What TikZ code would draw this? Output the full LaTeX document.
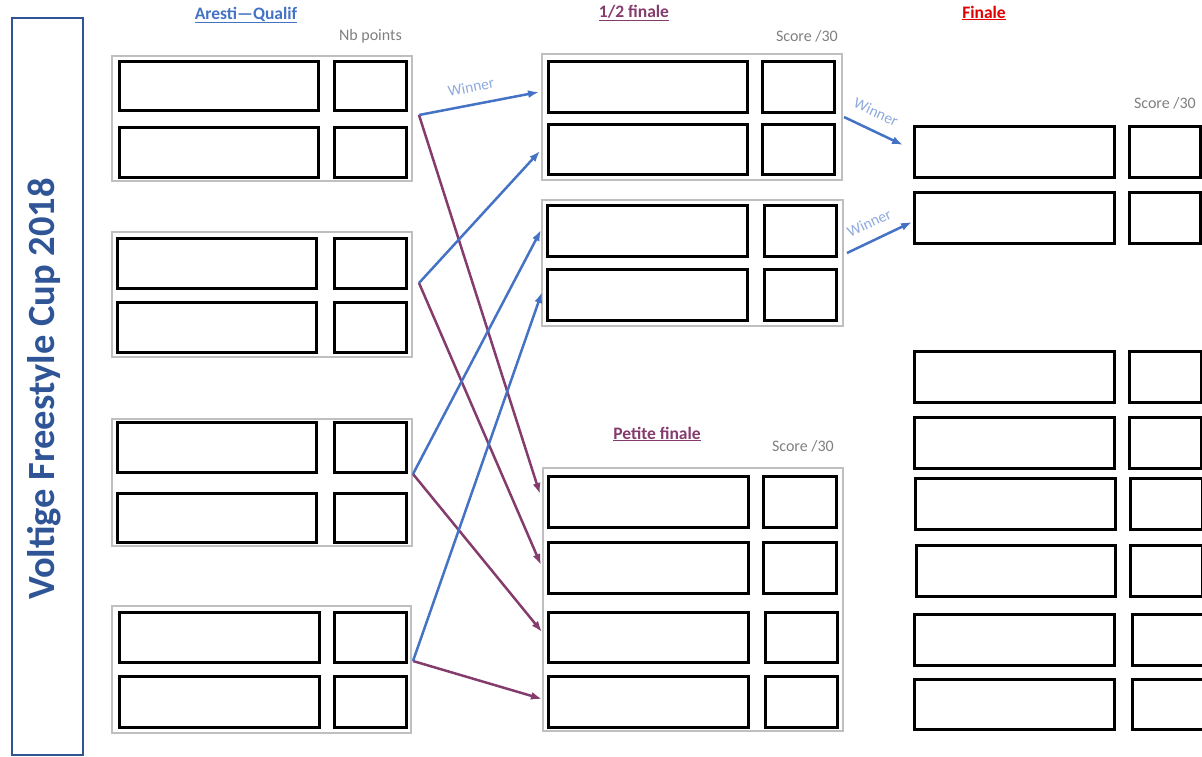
\documentclass[tikz,border=0pt]{standalone}
\usepackage{fontspec}
\setmainfont{Carlito}
\usetikzlibrary{arrows.meta,fit}
\definecolor{titleblue}{HTML}{2F5597}
\definecolor{headblue}{HTML}{4472C4}
\definecolor{arrblue}{HTML}{4472C4}
\definecolor{plum}{HTML}{843C6C}
\definecolor{winblue}{HTML}{8FAADC}
\definecolor{finred}{HTML}{E00000}
\definecolor{lblgray}{HTML}{7F7F7F}
\definecolor{grpgray}{HTML}{BFBFBF}
\newcommand\mybox[6][nbox]{\node[#1, fit={(#3,#4) (#5,#6)}] (#2) {};}
\begin{document}
\begin{tikzpicture}[x=1pt,y=-1pt,
  grp/.style={draw=grpgray, line width=1.4pt, inner sep=0pt},
  nbox/.style={draw=black, line width=3pt, inner sep=0pt},
  head/.style={font=\fontsize{17.5}{19}\selectfont\bfseries, inner sep=0pt},
  lbl/.style={font=\fontsize{16}{18}\selectfont, text=lblgray, inner sep=0pt},
  win/.style={font=\fontsize{15.5}{17}\selectfont, text=winblue, inner sep=0pt},
  barr/.style={draw=arrblue, line width=2.5pt, -{Latex[length=11pt,width=8pt]}},
  parr/.style={draw=plum, line width=2.5pt, -{Latex[length=11pt,width=8pt]}},
]
\useasboundingbox (0,0) rectangle (1202,756);
% title
\node[draw=titleblue, line width=2pt, fit={(12,18) (83,755)}, inner sep=0pt] (title) {};
\node[rotate=90, text=titleblue, font=\fontsize{38.5}{40}\selectfont\bfseries] (titletext) at (44,389) {Voltige Freestyle Cup 2018};
% headings
\node[head, text=headblue] (hq) at (246,15) {\underline{Aresti—Qualif}};
\node[lbl, anchor=east] (nbp) at (402,36) {Nb points};
\node[head, text=plum] (hs) at (634,13) {\underline{1/2 finale}};
\node[lbl, anchor=east] (sc1) at (838,36) {Score /30};
\node[head, text=finred] (hf) at (984,13) {\underline{Finale}};
\node[lbl, anchor=east] (sc2) at (1196,103) {Score /30};
\node[head, text=plum] (hp) at (657,434) {\underline{Petite finale}};
\node[lbl, anchor=east] (sc3) at (834,446) {Score /30};
% qualif groups
\mybox[grp]{q1}{112}{56}{412}{181}
\mybox[grp]{q2}{112}{232}{412}{357}
\mybox[grp]{q3}{112}{419}{412}{546}
\mybox[grp]{q4}{112}{606}{411}{733}
\mybox{q1an}{119}{61}{318}{110}\mybox{q1as}{334}{61}{406}{110}
\mybox{q1bn}{119}{127}{318}{177}\mybox{q1bs}{334}{127}{406}{177}
\mybox{q2an}{117}{238}{316}{288}\mybox{q2as}{334}{238}{406}{288}
\mybox{q2bn}{117}{302}{316}{352}\mybox{q2bs}{334}{302}{406}{352}
\mybox{q3an}{117}{422}{316}{472}\mybox{q3as}{334}{422}{406}{472}
\mybox{q3bn}{117}{493}{316}{542}\mybox{q3bs}{334}{493}{406}{542}
\mybox{q4an}{119}{612}{319}{662}\mybox{q4as}{334}{612}{406}{662}
\mybox{q4bn}{119}{676}{319}{727}\mybox{q4bs}{334}{676}{406}{727}
% semi-finals
\mybox[grp]{s1}{542}{54}{842}{180}
\mybox[grp]{s2}{542}{200}{843}{326}
\mybox{s1an}{548}{61}{747}{112}\mybox{s1as}{762}{61}{834}{112}
\mybox{s1bn}{548}{124}{747}{174}\mybox{s1bs}{762}{124}{834}{174}
\mybox{s2an}{547}{205}{747}{256}\mybox{s2as}{764}{205}{836}{256}
\mybox{s2bn}{547}{269}{747}{320}\mybox{s2bs}{764}{269}{836}{320}
% petite finale
\mybox[grp]{pf}{543}{468}{843}{731}
\mybox{p1n}{548}{476}{748}{527}\mybox{p1s}{763}{476}{836}{527}
\mybox{p2n}{548}{542}{748}{593}\mybox{p2s}{763}{542}{836}{593}
\mybox{p3n}{548}{612}{748}{662}\mybox{p3s}{765}{612}{837}{662}
\mybox{p4n}{548}{676}{748}{727}\mybox{p4s}{765}{676}{837}{727}
% finale
\mybox{f1n}{914}{126}{1114}{177}\mybox{f1s}{1129}{126}{1200}{177}
\mybox{f2n}{914}{192}{1114}{243}\mybox{f2s}{1129}{192}{1200}{243}
% lower right
\mybox{r1n}{914}{351}{1114}{402}\mybox{r1s}{1129}{351}{1201}{402}
\mybox{r2n}{914}{417}{1114}{468}\mybox{r2s}{1129}{417}{1201}{468}
\mybox{r3n}{915}{478}{1115}{529}\mybox{r3s}{1130}{478}{1202}{529}
\mybox{r4n}{916}{545}{1115}{596}\mybox{r4s}{1130}{545}{1202}{596}
\mybox{r5n}{914}{614}{1114}{665}\mybox{r5s}{1132}{614}{1204}{665}
\mybox{r6n}{914}{679}{1114}{729}\mybox{r6s}{1132}{679}{1204}{729}
% connector ends
\coordinate (o1) at (419,115);
\coordinate (o2) at (419,283);
\coordinate (o3) at (413,474);
\coordinate (o4) at (413,661);
\coordinate (t1) at (539,92);
\coordinate (t2) at (540,151);
\coordinate (t3) at (541,230);
\coordinate (t4) at (542,292);
\coordinate (u1) at (540,494);
\coordinate (u2) at (541,565);
\coordinate (u3) at (542,632);
\coordinate (u4) at (542,699);
\coordinate (fo1) at (844,117);
\coordinate (ft1) at (903,145);
\coordinate (fo2) at (847,253);
\coordinate (ft2) at (912,222);
% connectors
\draw[parr] (o1) -- (u1);
\draw[parr] (o2) -- (u2);
\draw[parr] (o3) -- (u3);
\draw[parr] (o4) -- (u4);
\draw[barr] (o1) -- (t1);
\draw[barr] (o2) -- (t2);
\draw[barr] (o3) -- (t3);
\draw[barr] (o4) -- (t4);
\draw[barr] (fo1) -- (ft1);
\draw[barr] (fo2) -- (ft2);
% winner labels
\node[win, rotate=11] (w1) at (471,87) {Winner};
\node[win, rotate=-25] (w2) at (876,112) {Winner};
\node[win, rotate=25] (w3) at (869,223) {Winner};
\end{tikzpicture}
\end{document}
